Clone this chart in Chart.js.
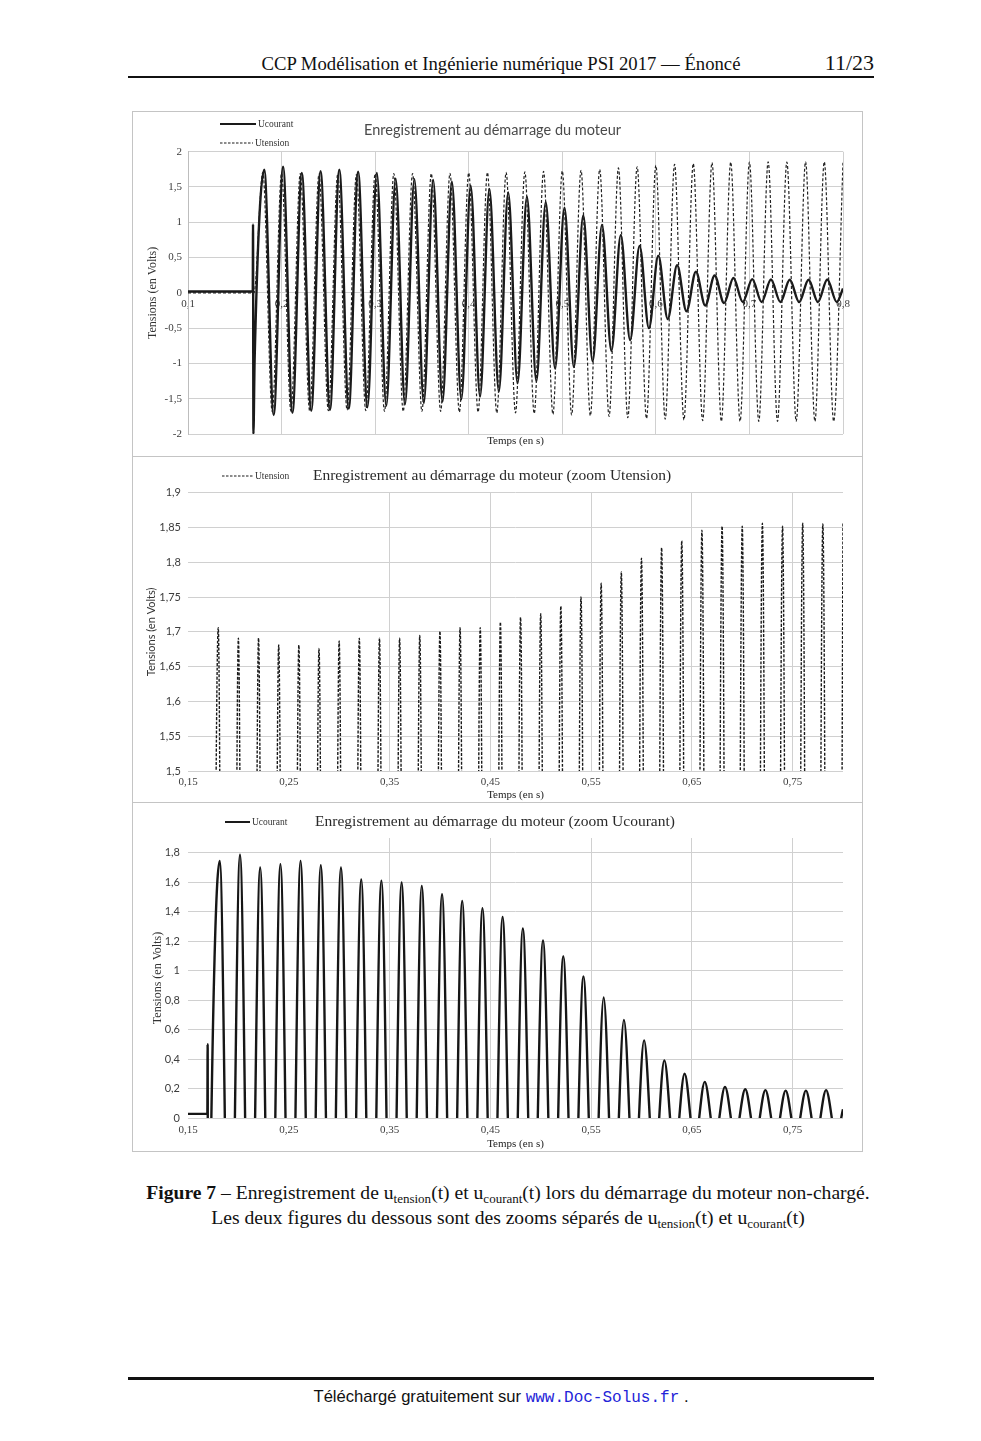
<!DOCTYPE html>
<html lang="fr">
<head>
<meta charset="utf-8">
<title>Figure 7 - démarrage du moteur</title>
<script src="https://cdn.jsdelivr.net/npm/chart.js@4.4.1/dist/chart.umd.min.js"></script>
<style>
  html, body { margin: 0; padding: 0; background: #fff; }
  body { width: 981px; height: 1441px; position: relative; overflow: hidden; color: #111; }
  .entete { position: absolute; top: 52px; left: 128px; width: 746px; height: 24px; line-height: 24px;
            font-family: 'Liberation Serif', serif; font-size: 18.7px; text-align: center; white-space: nowrap; }
  .page { position: absolute; top: 49px; right: 107px; font-family: 'Liberation Serif', serif; font-size: 22px; line-height: 28px; }
  .filet { position: absolute; left: 128px; width: 746px; background: #111; }
  .panneau { position: absolute; left: 132px; width: 731px; box-sizing: border-box; border: 1px solid #c4c4c4; background: #fff; }
  .panneau canvas { display: block; }
  .legende { position: absolute; top: 1180px; left: 58px; width: 900px; text-align: center; white-space: nowrap;
             font-family: 'Liberation Serif', serif; font-size: 19.6px; line-height: 25px; }
  .legende sub { font-size: 13px; line-height: 0; vertical-align: -4px; }
  .pied { position: absolute; top: 1387px; left: 128px; width: 746px; text-align: center; line-height: 20px;
          font-family: 'Liberation Sans', sans-serif; font-size: 16.6px; }
  .pied .url { font-family: 'Liberation Mono', monospace; color: #2323d8; font-size: 16px; }
</style>
</head>
<body>
<div class="entete">CCP Modélisation et Ingénierie numérique PSI 2017 — Énoncé</div>
<div class="page">11/23</div>
<div class="filet" style="top:76px;height:2px"></div>

<div class="panneau" style="top:111px;height:346px"><canvas id="graphe1" width="729" height="344"></canvas></div>
<div class="panneau" style="top:456px;height:347px"><canvas id="graphe2" width="729" height="345"></canvas></div>
<div class="panneau" style="top:802px;height:350px"><canvas id="graphe3" width="729" height="348"></canvas></div>

<div class="legende"><b>Figure 7</b> – Enregistrement de u<sub>tension</sub>(t) et u<sub>courant</sub>(t) lors du démarrage du moteur non-chargé.<br>Les deux figures du dessous sont des zooms séparés de u<sub>tension</sub>(t) et u<sub>courant</sub>(t)</div>

<div class="filet" style="top:1377px;height:3px"></div>
<div class="pied">Téléchargé gratuitement sur <span class="url">www.Doc-Solus.fr</span> .</div>

<script>
const tensionT = [0.10, 0.1705,
  0.18, 0.19, 0.20, 0.21, 0.22, 0.23, 0.24, 0.25, 0.26, 0.27, 0.28, 0.29, 0.30, 0.31, 0.32, 0.33,
  0.34, 0.35, 0.36, 0.37, 0.38, 0.39, 0.40, 0.41, 0.42, 0.43, 0.44, 0.45, 0.46, 0.47, 0.48, 0.49,
  0.50, 0.51, 0.52, 0.53, 0.54, 0.55, 0.56, 0.57, 0.58, 0.59, 0.60, 0.61, 0.62, 0.63, 0.64, 0.65,
  0.66, 0.67, 0.68, 0.69, 0.70, 0.71, 0.72, 0.73, 0.74, 0.75, 0.76, 0.77, 0.78, 0.79, 0.80];
const tensionV = [0, 0,
  1.706, -1.68, 1.691, -1.68, 1.691, -1.67, 1.681, -1.67, 1.681, -1.66, 1.676, -1.67, 1.687, -1.68,
  1.691, -1.68, 1.691, -1.68, 1.691, -1.68, 1.695, -1.69, 1.701, -1.69, 1.706, -1.70, 1.706, -1.70,
  1.714, -1.71, 1.721, -1.72, 1.726, -1.73, 1.737, -1.74, 1.750, -1.75, 1.770, -1.77, 1.786, -1.78,
  1.806, -1.79, 1.821, -1.80, 1.831, -1.81, 1.846, -1.82, 1.852, -1.82, 1.852, -1.82, 1.856, -1.82,
  1.852, -1.82, 1.856, -1.82, 1.855, -1.82, 1.857];

// mise sous tension : pic puis chute brutale de Ucourant
const courantDebutT = [0.10, 0.1692, 0.1695, 0.1699, 0.1712];
const courantDebutV = [0.02, 0.02, 0.97, -2.0, -0.95];
const courantZoomDebutV = [0.028, 0.028, 0.50, -2.0, -0.95];

const courantT = [
  0.1815, 0.1916, 0.2016, 0.2116, 0.2216, 0.2317, 0.2417, 0.2517, 0.2617, 0.2718, 0.2818, 0.2918,
  0.3018, 0.3119, 0.3219, 0.3319, 0.3419, 0.3520, 0.3620, 0.3720, 0.3820, 0.3921, 0.4021, 0.4121,
  0.4221, 0.4322, 0.4422, 0.4522, 0.4622, 0.4723, 0.4823, 0.4923, 0.5023, 0.5124, 0.5224, 0.5324,
  0.5424, 0.5525, 0.5625, 0.5725, 0.5826, 0.5926, 0.6026, 0.6127, 0.6227, 0.6327, 0.6428, 0.6528,
  0.6628, 0.6729, 0.6829, 0.6929, 0.7030, 0.7130, 0.7230, 0.7331, 0.7431, 0.7531, 0.7632, 0.7732,
  0.7832, 0.7933, 0.8000];
const courantV = [
  1.745, -1.73, 1.786, -1.70, 1.700, -1.67, 1.723, -1.66, 1.745, -1.64, 1.716, -1.62,
  1.700, -1.60, 1.618, -1.58, 1.611, -1.56, 1.598, -1.54, 1.575, -1.51, 1.518, -1.47,
  1.473, -1.40, 1.423, -1.28, 1.364, -1.25, 1.286, -1.07, 1.205, -1.05, 1.098, -0.97,
  0.961, -0.82, 0.818, -0.67, 0.666, -0.50, 0.527, -0.37, 0.391, -0.26, 0.300, -0.18,
  0.245, -0.145, 0.211, -0.13, 0.195, -0.13, 0.189, -0.13, 0.186, -0.13, 0.186, -0.13,
  0.189, -0.13, 0.06];

// Graduations des axes
const ticksX1 = [0.1, 0.2, 0.3, 0.4, 0.5, 0.6, 0.7, 0.8];
const labelsX1 = ['0,1', '0,2', '0,3', '0,4', '0,5', '0,6', '0,7', '0,8'];
const ticksY1 = [-2, -1.5, -1, -0.5, 0, 0.5, 1, 1.5, 2];
const labelsY1 = ['-2', '-1,5', '-1', '-0,5', '0', '0,5', '1', '1,5', '2'];
const ticksXZoom = [0.15, 0.25, 0.35, 0.45, 0.55, 0.65, 0.75];
const labelsXZoom = ['0,15', '0,25', '0,35', '0,45', '0,55', '0,65', '0,75'];
const ticksYTension = [1.5, 1.55, 1.6, 1.65, 1.7, 1.75, 1.8, 1.85, 1.9];
const labelsYTension = ['1,5', '1,55', '1,6', '1,65', '1,7', '1,75', '1,8', '1,85', '1,9'];
const ticksYCourant = [0, 0.2, 0.4, 0.6, 0.8, 1, 1.2, 1.4, 1.6, 1.8];
const labelsYCourant = ['0', '0,2', '0,4', '0,6', '0,8', '1', '1,2', '1,4', '1,6', '1,8'];

const points = (ts, vs) => ts.map((t, i) => ({ x: t, y: vs[i] }));
const graduer = valeurs => scale => { scale.ticks = valeurs.map(v => ({ value: v })); };
const etiqueter = labels => (v, i) => labels[i];
const largeur = w => scale => { scale.width = w; };
const hauteur = h => scale => { scale.height = h; };

const GRILLE = '#d0d0d0';
const TEXTE = '#3c3c3c';
const serif = size => ({ family: 'Liberation Serif', size: size, weight: 'normal' });
const sans = size => ({ family: 'Lato', size: size, weight: 'normal' });

// petite légende dessinée en haut à gauche, comme sur l'original
function legende(id, items) {
  return {
    id: id,
    afterDraw(chart) {
      const ctx = chart.ctx;
      ctx.save();
      ctx.font = '9.5px "Liberation Serif"';
      ctx.textBaseline = 'middle';
      items.forEach(it => {
        ctx.strokeStyle = '#1a1a1a';
        ctx.lineWidth = it.width;
        ctx.setLineDash(it.dash);
        ctx.beginPath();
        ctx.moveTo(it.x, it.y);
        ctx.lineTo(it.x + it.len, it.y);
        ctx.stroke();
        ctx.setLineDash([]);
        ctx.fillStyle = '#333';
        ctx.fillText(chart.data.datasets[it.dataset].label, it.x + it.len + 2, it.y + 0.5);
      });
      ctx.restore();
    }
  };
}

const communs = {
  animation: false,
  responsive: false,
  events: [],
  elements: {
    point: { radius: 0 },
    line: { cubicInterpolationMode: 'monotone', capBezierPoints: false }
  }
};

// Graphe 1 : Ucourant et Utension
new Chart(document.getElementById('graphe1'), {
  type: 'line',
  data: {
    datasets: [{
      label: 'Ucourant',
      data: points(courantDebutT.concat(courantT), courantDebutV.concat(courantV)),
      borderColor: '#1a1a1a',
      borderWidth: 2.4,
      xAxisID: 'x', yAxisID: 'y',
      order: 2
    }, {
      label: 'Utension',
      data: points(tensionT, tensionV),
      borderColor: '#222',
      borderWidth: 1.2,
      borderDash: [3, 2],
      xAxisID: 'x', yAxisID: 'y',
      order: 1
    }]
  },
  options: Object.assign({}, communs, {
    layout: { padding: { left: 9, right: 19, top: 0, bottom: 0 } },
    plugins: {
      legend: { display: false },
      tooltip: { enabled: false },
      title: {
        display: true,
        text: 'Enregistrement au démarrage du moteur',
        font: sans(14.5),
        color: '#4a4a4a',
        padding: { top: 9.3, bottom: 13.0 }
      }
    },
    scales: {
      x: {
        type: 'linear', min: 0.1, max: 0.8,
        position: { y: 0 },
        afterBuildTicks: graduer(ticksX1),
        ticks: { callback: etiqueter(labelsX1), font: serif(11), color: TEXTE, padding: 5, maxRotation: 0, autoSkip: false },
        grid: { color: GRILLE, drawTicks: false },
        border: { display: false }
      },
      xt: {
        type: 'linear', position: 'bottom',
        afterFit: hauteur(22),
        ticks: { display: false },
        grid: { display: false },
        border: { display: false },
        title: { display: true, text: 'Temps (en s)', font: serif(11), color: '#222', padding: { top: 0, bottom: 8 } }
      },
      y: {
        type: 'linear', min: -2, max: 2,
        afterBuildTicks: graduer(ticksY1),
        afterFit: largeur(46),
        ticks: { callback: etiqueter(labelsY1), font: serif(11), color: TEXTE, padding: 6, autoSkip: false },
        grid: { color: GRILLE, drawTicks: false },
        border: { color: '#bdbdbd' },
        title: { display: true, text: 'Tensions (en Volts)', font: serif(12), color: '#333' }
      }
    }
  }),
  plugins: [legende('legende1', [
    { dataset: 0, x: 87, y: 12, len: 36, width: 2, dash: [] },
    { dataset: 1, x: 87, y: 31, len: 33, width: 1.1, dash: [2.5, 1.5] }
  ])]
});

// Graphe 2 : zoom Utension
new Chart(document.getElementById('graphe2'), {
  type: 'line',
  data: {
    datasets: [{
      label: 'Utension',
      data: points(tensionT, tensionV),
      borderColor: '#1a1a1a',
      borderWidth: 1.4,
      borderDash: [3, 1.5]
    }]
  },
  options: Object.assign({}, communs, {
    layout: { padding: { left: 8, right: 19, top: 0, bottom: 0 } },
    plugins: {
      legend: { display: false },
      tooltip: { enabled: false },
      title: {
        display: true,
        text: 'Enregistrement au démarrage du moteur (zoom Utension)',
        font: serif(15.5),
        color: '#2a2a2a',
        padding: { top: 9.7, bottom: 7.4 }
      }
    },
    scales: {
      x: {
        type: 'linear', min: 0.15, max: 0.8,
        afterBuildTicks: graduer(ticksXZoom),
        afterFit: hauteur(31),
        ticks: { callback: etiqueter(labelsXZoom), font: serif(11), color: TEXTE, padding: 5, maxRotation: 0, autoSkip: false },
        grid: { color: c => (c.tick && c.tick.value < 0.3 ? 'rgba(0,0,0,0)' : GRILLE), drawTicks: false },
        border: { display: false },
        title: { display: true, text: 'Temps (en s)', font: serif(11), color: '#222', padding: { top: 0, bottom: 0 } }
      },
      y: {
        type: 'linear', min: 1.5, max: 1.9,
        afterBuildTicks: graduer(ticksYTension),
        afterFit: largeur(47),
        ticks: { callback: etiqueter(labelsYTension), font: sans(11), color: TEXTE, padding: 7, autoSkip: false },
        grid: { color: GRILLE, drawTicks: false },
        border: { display: false },
        title: { display: true, text: 'Tensions (en Volts)', font: sans(11), color: '#333' }
      }
    }
  }),
  plugins: [legende('legende2', [
    { dataset: 0, x: 89, y: 19, len: 31, width: 1.1, dash: [2.5, 1.5] }
  ])]
});

// Graphe 3 : zoom Ucourant
new Chart(document.getElementById('graphe3'), {
  type: 'line',
  data: {
    datasets: [{
      label: 'Ucourant',
      data: points(courantDebutT.concat(courantT), courantZoomDebutV.concat(courantV)),
      borderColor: '#161616',
      borderWidth: 2.4
    }]
  },
  options: Object.assign({}, communs, {
    layout: { padding: { left: 14, right: 19, top: 0, bottom: 0 } },
    plugins: {
      legend: { display: false },
      tooltip: { enabled: false },
      title: {
        display: true,
        text: 'Enregistrement au démarrage du moteur (zoom Ucourant)',
        font: serif(15.5),
        color: '#2a2a2a',
        padding: { top: 9.7, bottom: 6.7 }
      }
    },
    scales: {
      x: {
        type: 'linear', min: 0.15, max: 0.8,
        afterBuildTicks: graduer(ticksXZoom),
        afterFit: hauteur(33),
        ticks: { callback: etiqueter(labelsXZoom), font: serif(11), color: TEXTE, padding: 6, maxRotation: 0, autoSkip: false },
        grid: { color: c => (c.tick && c.tick.value < 0.3 ? 'rgba(0,0,0,0)' : GRILLE), drawTicks: false },
        border: { display: false },
        title: { display: true, text: 'Temps (en s)', font: serif(11), color: '#222', padding: { top: 0, bottom: 0 } }
      },
      y: {
        type: 'linear', min: 0, max: 1.9,
        afterBuildTicks: graduer(ticksYCourant),
        afterFit: largeur(41),
        ticks: { callback: etiqueter(labelsYCourant), font: sans(11), color: TEXTE, padding: 8, autoSkip: false },
        grid: { color: GRILLE, drawTicks: false },
        border: { display: false },
        title: { display: true, text: 'Tensions (en Volts)', font: serif(12), color: '#333' }
      }
    }
  }),
  plugins: [legende('legende3', [
    { dataset: 0, x: 92, y: 19, len: 25, width: 2, dash: [] }
  ])]
});
</script>
</body>
</html>
